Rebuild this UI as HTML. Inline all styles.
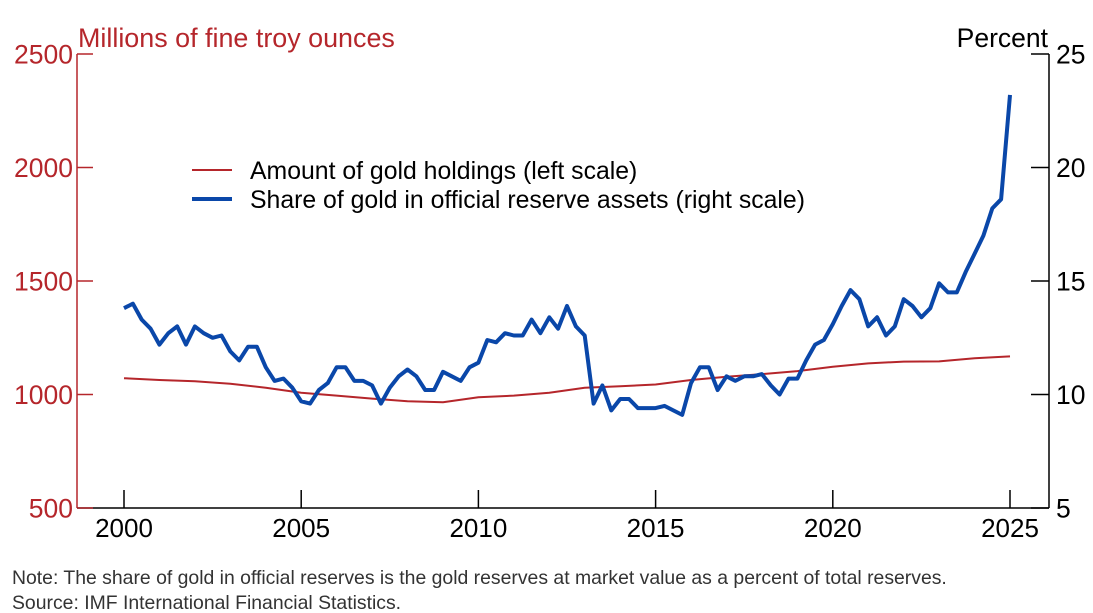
<!DOCTYPE html>
<html><head><meta charset="utf-8"><style>
html,body{margin:0;padding:0;background:#fff;}
svg{display:block;font-family:"Liberation Sans",Arial,sans-serif;}
</style></head><body>
<svg id="chart" width="1093" height="613" viewBox="0 0 1093 613" xmlns="http://www.w3.org/2000/svg">
<g id="axes"></g>
<g id="series"></g>
<g>
<line x1="192" y1="170" x2="232" y2="170" stroke="#b5262b" stroke-width="2"/>
<text x="250" y="179" font-size="24.8" fill="#000">Amount of gold holdings (left scale)</text>
<line x1="192" y1="199" x2="232" y2="199" stroke="#0a47a9" stroke-width="4"/>
<text x="250" y="208" font-size="24.8" fill="#000">Share of gold in official reserve assets (right scale)</text>
</g>
<text x="78" y="47" font-size="26.9" fill="#b5262b">Millions of fine troy ounces</text>
<text x="1048" y="47" font-size="26.5" fill="#000" text-anchor="end">Percent</text>
<text x="12" y="584" font-size="19.4" fill="#333">Note: The share of gold in official reserves is the gold reserves at market value as a percent of total reserves.</text>
<text x="12" y="609" font-size="19.4" fill="#333">Source: IMF International Financial Statistics.</text>
</svg>
<script>
const xTicks = [2000, 2005, 2010, 2015, 2020, 2025];
const leftTicks = [500, 1000, 1500, 2000, 2500];
const rightTicks = [5, 10, 15, 20, 25];
const holdingsYears = [2000,2001,2002,2003,2004,2005,2006,2007,2008,2009,2010,2011,2012,2013,2014,2015,2016,2017,2018,2019,2020,2021,2022,2023,2024,2025];
const holdingsValues = [1072,1064,1058,1047,1030,1008,995,982,970,966,988,995,1008,1030,1036,1044,1064,1078,1090,1103,1122,1137,1145,1146,1160,1168];
const shareStart = 2000;
const shareValues = [13.8,14.0,13.3,12.9,12.2,12.7,13.0,12.2,13.0,12.7,12.5,12.6,11.9,11.5,12.1,12.1,11.2,10.6,10.7,10.3,9.7,9.6,10.2,10.5,11.2,11.2,10.6,10.6,10.4,9.6,10.3,10.8,11.1,10.8,10.2,10.2,11.0,10.8,10.6,11.2,11.4,12.4,12.3,12.7,12.6,12.6,13.3,12.7,13.4,12.9,13.9,13.0,12.6,9.6,10.4,9.3,9.8,9.8,9.4,9.4,9.4,9.5,9.3,9.1,10.5,11.2,11.2,10.2,10.8,10.6,10.8,10.8,10.9,10.4,10.0,10.7,10.7,11.5,12.2,12.4,13.1,13.9,14.6,14.2,13.0,13.4,12.6,13.0,14.2,13.9,13.4,13.8,14.9,14.5,14.5,15.4,16.2,17.0,18.2,18.6,23.2];

const NS = "http://www.w3.org/2000/svg";
const X0 = 124, X1 = 1010, PL = 77, PR = 1049, PT = 54, PB = 508;
function xs(year){ return X0 + (year - 2000) * (X1 - X0) / 25; }
function yl(v){ return PB - (v - 500) * (PB - PT) / 2000; }
function yr(v){ return PB - (v - 5) * (PB - PT) / 20; }
function mk(tag, attrs, parent){ const e = document.createElementNS(NS, tag); for (const k in attrs) e.setAttribute(k, attrs[k]); parent.appendChild(e); return e; }

const ax = document.getElementById('axes');
const red = '#b5262b', blue = '#0a47a9';
let e;
e = mk('line', {x1:PL, y1:PT, x2:PL, y2:PB, stroke:red, 'stroke-width':1.5}, ax);


e = mk('line', {x1:PR, y1:PT, x2:PR, y2:PB, stroke:'#000', 'stroke-width':1.5}, ax);


e = mk('line', {x1:PL, y1:PB, x2:PR, y2:PB, stroke:'#000', 'stroke-width':1.5}, ax);



leftTicks.forEach(v => {
  const y = yl(v);
  const t = mk('line', {x1:PL, y1:y, x2:PL+16, y2:y, stroke:red, 'stroke-width':1.5}, ax);
  
  
  const l = mk('text', {x:PL-4, y:y+9.5, 'font-size':26.5, fill:red, 'text-anchor':'end'}, ax);
  l.textContent = v;
  
  
});
rightTicks.forEach(v => {
  const y = yr(v);
  const t = mk('line', {x1:PR-18, y1:y, x2:PR, y2:y, stroke:'#000', 'stroke-width':1.5}, ax);
  
  
  const l = mk('text', {x:PR+7, y:y+9.5, 'font-size':26.5, fill:'#000'}, ax);
  l.textContent = v;
  
  
});
xTicks.forEach(v => {
  const x = xs(v);
  const t = mk('line', {x1:x, y1:PB-18, x2:x, y2:PB, stroke:'#000', 'stroke-width':1.5}, ax);
  
  
  const l = mk('text', {x:x, y:537, 'font-size':26, fill:'#000', 'text-anchor':'middle'}, ax);
  l.textContent = v;
  
  
});

const sg = document.getElementById('series');
const hp = holdingsYears.map((yr_, i) => xs(yr_).toFixed(1) + ',' + yl(holdingsValues[i]).toFixed(1)).join(' ');
const hl = mk('polyline', {points:hp, fill:'none', stroke:red, 'stroke-width':2, 'stroke-linejoin':'round'}, sg);


const sp = shareValues.map((v, i) => xs(shareStart + i / 4).toFixed(1) + ',' + yr(v).toFixed(1)).join(' ');
const sl = mk('polyline', {points:sp, fill:'none', stroke:blue, 'stroke-width':4, 'stroke-linejoin':'round'}, sg);


</script>
</body></html>
